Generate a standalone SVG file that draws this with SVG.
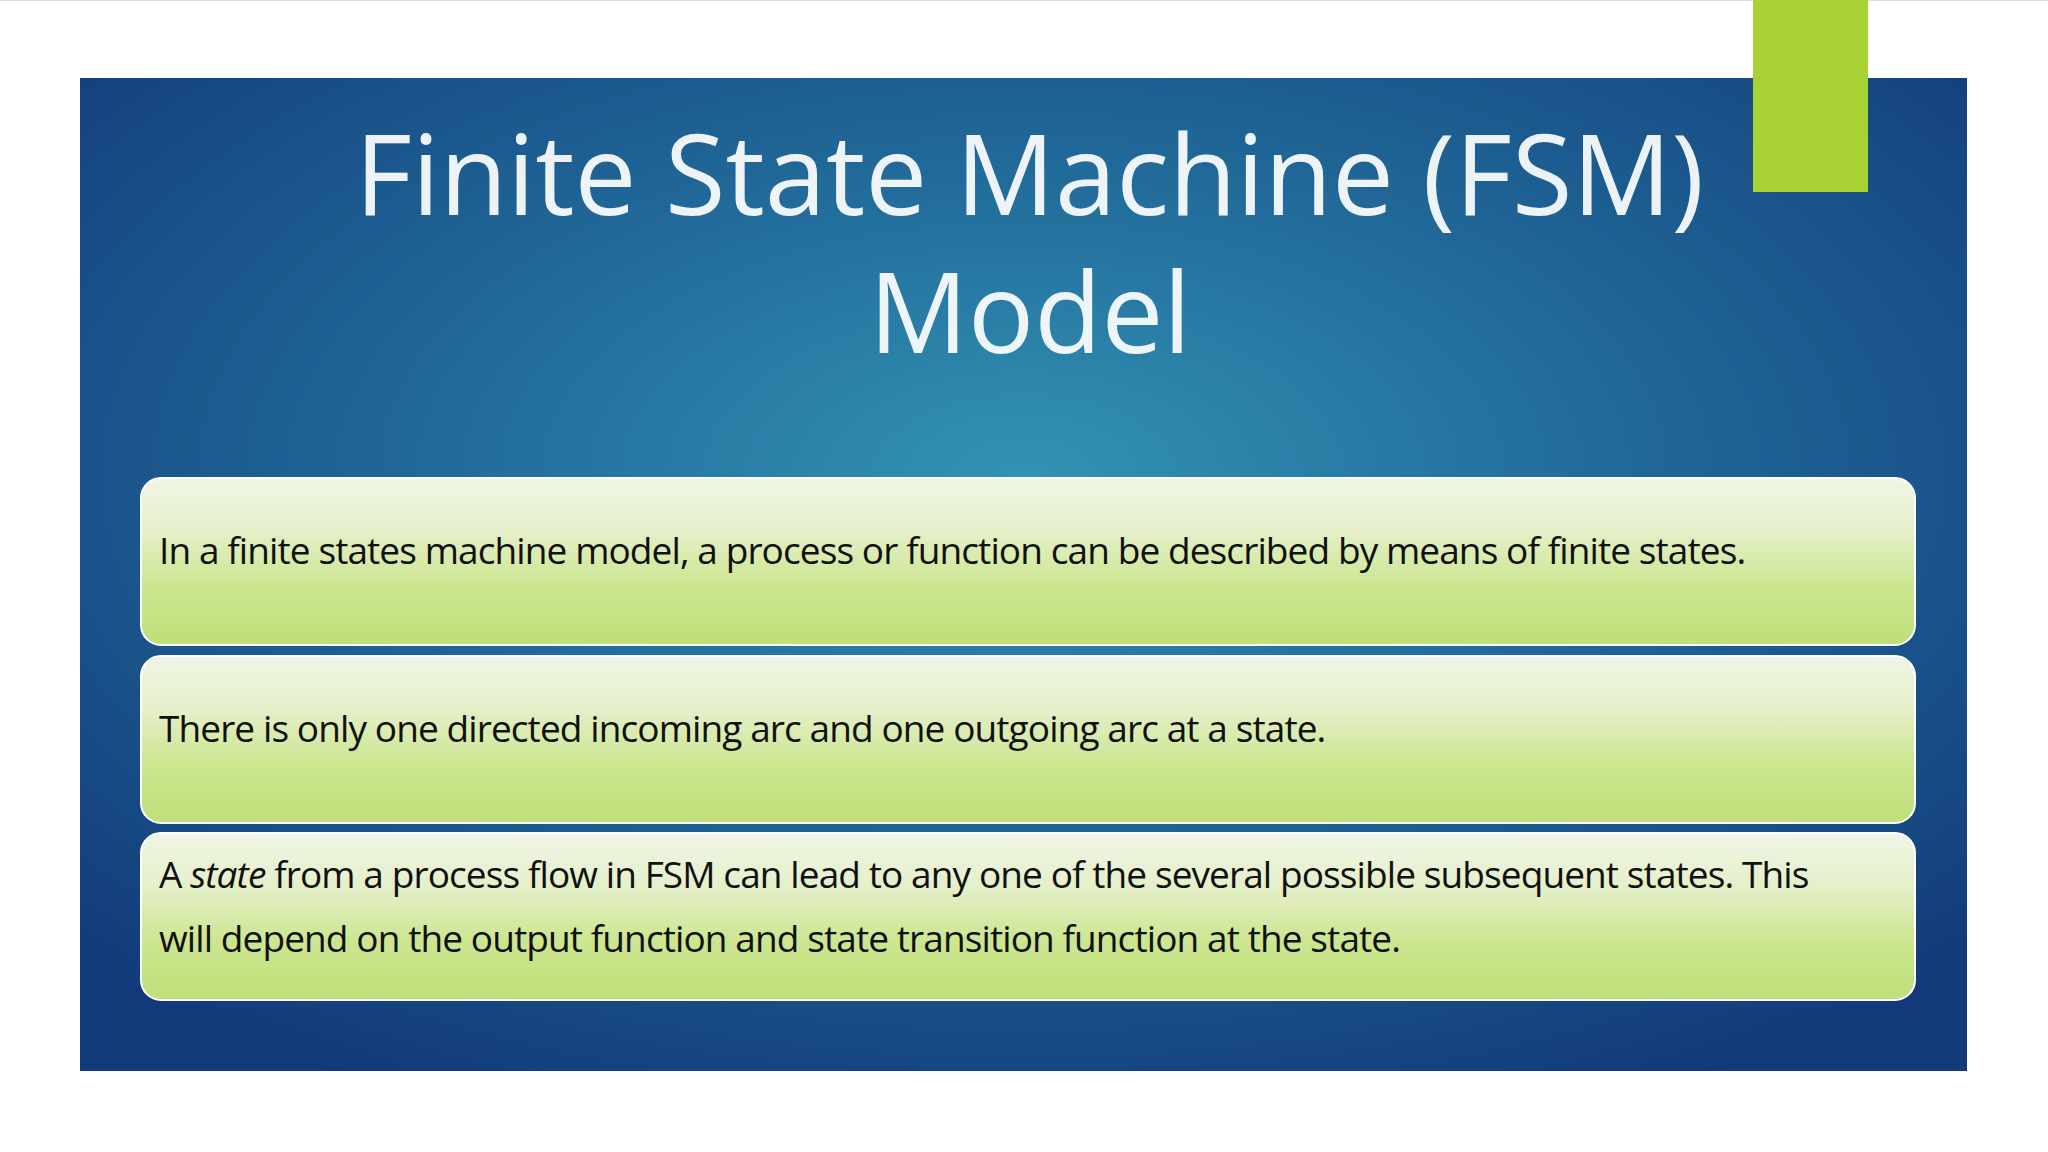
<svg xmlns="http://www.w3.org/2000/svg" width="2048" height="1152" viewBox="0 0 2048 1152">
<defs>
<radialGradient id="bg" cx="0.5" cy="0.4" r="0.7">
<stop offset="0" stop-color="#3293b4"/>
<stop offset="0.5" stop-color="#1f6596"/>
<stop offset="1" stop-color="#123a78"/>
</radialGradient>
<linearGradient id="box" x1="0" y1="0" x2="0" y2="1">
<stop offset="0" stop-color="#f0f5e6"/>
<stop offset="0.3" stop-color="#e6f0cc"/>
<stop offset="0.65" stop-color="#cce690"/>
<stop offset="1" stop-color="#bfdf78"/>
</linearGradient>
<style>
.t{font-family:"Segoe UI","Open Sans","Noto Sans",sans-serif;fill:#ffffff;fill-opacity:0.92;font-size:112px}
.b{font-family:"Open Sans","Noto Sans",sans-serif;fill:#111;font-size:37px;letter-spacing:-0.9px}
.bx{fill:url(#box);stroke:#ffffff;stroke-width:2}
</style>
</defs>
<rect width="2048" height="1152" fill="#ffffff"/>
<rect x="0" y="0" width="2048" height="1" fill="#ddd"/>
<rect x="80" y="78" width="1887" height="993" fill="url(#bg)"/>
<rect x="1753" y="0" width="115" height="192" fill="#a8d234"/>
<g id="title">
<text class="t" x="355" y="215" textLength="1349" lengthAdjust="spacingAndGlyphs">Finite State Machine (FSM)</text>
<text class="t" x="869" y="353" textLength="322" lengthAdjust="spacingAndGlyphs">Model</text>
</g>
<g id="box1">
<rect class="bx" x="141" y="478" width="1774" height="167" rx="20"/>
<text class="b" x="159" y="564">In a finite states machine model, a process or function can be described by means of finite states.</text>
</g>
<g id="box2">
<rect class="bx" x="141" y="656" width="1774" height="167" rx="20"/>
<text class="b" x="159" y="742">There is only one directed incoming arc and one outgoing arc at a state.</text>
</g>
<g id="box3">
<rect class="bx" x="141" y="833" width="1774" height="167" rx="20"/>
<text class="b" x="159" y="888">A <tspan font-style="italic">state</tspan> from a process flow in FSM can lead to any one of the several possible subsequent states. This</text>
<text class="b" x="159" y="952">will depend on the output function and state transition function at the state.</text>
</g>
</svg>
